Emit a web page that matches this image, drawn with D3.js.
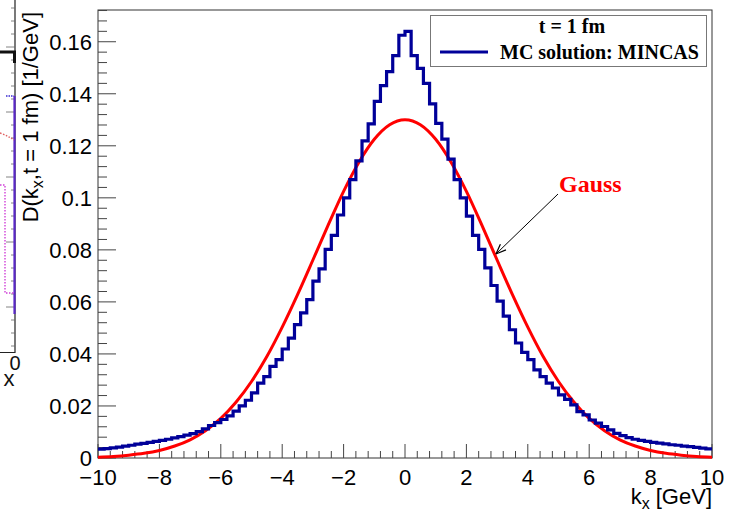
<!DOCTYPE html>
<html>
<head>
<meta charset="utf-8">
<script src="https://cdn.jsdelivr.net/npm/d3@7"></script>
<style>
  html, body { margin: 0; padding: 0; background: #fff; }
  svg { display: block; }
</style>
</head>
<body>
<svg id="chart" width="737" height="512"></svg>
<script>
// Histogram of the MC solution (MINCAS), 100 bins of 0.2 GeV on [-10, 10]
const kRange = [-10, 10];
const mcValues = [
  0.0034, 0.0036, 0.0039, 0.0042, 0.0046, 0.0049, 0.0053, 0.0056, 0.0060, 0.0064,
  0.0068, 0.0072, 0.0077, 0.0082, 0.0088, 0.0094, 0.0101, 0.0112, 0.0125, 0.0136,
  0.0148, 0.0162, 0.0180, 0.0200, 0.0222, 0.0250, 0.0288, 0.0313, 0.0352, 0.0378,
  0.0419, 0.0461, 0.0513, 0.0558, 0.0609, 0.0680, 0.0727, 0.0802, 0.0856, 0.0934,
  0.1000, 0.1070, 0.1142, 0.1219, 0.1284, 0.1371, 0.1431, 0.1485, 0.1547, 0.1625,
  0.1640, 0.1547, 0.1498, 0.1440, 0.1361, 0.1286, 0.1226, 0.1149, 0.1070, 0.1000,
  0.0930, 0.0856, 0.0802, 0.0731, 0.0663, 0.0603, 0.0545, 0.0493, 0.0442, 0.0406,
  0.0378, 0.0339, 0.0313, 0.0288, 0.0269, 0.0243, 0.0225, 0.0204, 0.0178, 0.0166,
  0.0146, 0.0134, 0.0121, 0.0108, 0.0095, 0.0086, 0.0078, 0.0072, 0.0068, 0.0064,
  0.0060, 0.0057, 0.0054, 0.0051, 0.0049, 0.0046, 0.0044, 0.0041, 0.0038, 0.0035
];

// Gaussian curve, sampled every 0.5 GeV
const gaussK = [
  -10, -9.5, -9, -8.5, -8, -7.5, -7, -6.5, -6, -5.5, -5, -4.5, -4, -3.5, -3, -2.5, -2, -1.5, -1, -0.5,
  0, 0.5, 1, 1.5, 2, 2.5, 3, 3.5, 4, 4.5, 5, 5.5, 6, 6.5, 7, 7.5, 8, 8.5, 9, 9.5, 10
];
const gaussD = [
  0.0003, 0.0006, 0.0011, 0.0018, 0.0029, 0.0046, 0.0070, 0.0105, 0.0152, 0.0215,
  0.0294, 0.0390, 0.0503, 0.0628, 0.0761, 0.0896, 0.1025, 0.1137, 0.1225, 0.1281,
  0.1300,
  0.1281, 0.1225, 0.1137, 0.1025, 0.0896, 0.0761, 0.0628, 0.0503, 0.0390, 0.0294,
  0.0215, 0.0152, 0.0105, 0.0070, 0.0046, 0.0029, 0.0018, 0.0011, 0.0006, 0.0003
];

// Axis ticks and labels
const xTicks = [-10, -8, -6, -4, -2, 0, 2, 4, 6, 8, 10];
const xTickLabels = ["\u221210", "\u22128", "\u22126", "\u22124", "\u22122", "0", "2", "4", "6", "8", "10"];
const yTicks = [0, 0.02, 0.04, 0.06, 0.08, 0.1, 0.12, 0.14, 0.16];
const yTickLabels = ["0", "0.02", "0.04", "0.06", "0.08", "0.1", "0.12", "0.14", "0.16"];
const yMax = 0.1722;

const legendTitle = "t = 1 fm";
const legendEntry = "MC solution: MINCAS";
const gaussLabel = "Gauss";

const svg = d3.select("#chart");
const frame = { left: 98, right: 712, top: 10, bottom: 458 };

const x = d3.scaleLinear().domain(kRange).range([frame.left, frame.right]);
const y = d3.scaleLinear().domain([0, yMax]).range([frame.bottom, frame.top]);

const sansFont = "'Liberation Sans', Arial, Helvetica, sans-serif";
const serifFont = "'Liberation Serif', 'Times New Roman', serif";

// ---- Edge of the neighbouring panel on the left ----
const side = svg.append("g").attr("class", "neighbour");
side.append("path")
  .attr("d", "M0,352.5 H15 V0")
  .attr("fill", "none").attr("stroke", "#222").attr("stroke-width", 1.2);
for (let i = 0; i < 27; i++) {
  const ty = 8 + i * 13;
  if (ty > 350) break;
  side.append("line")
    .attr("x1", 15).attr("x2", i % 5 === 3 ? 6 : 11)
    .attr("y1", ty).attr("y2", ty)
    .attr("stroke", "#666").attr("stroke-width", 0.8);
}
side.append("path").attr("d", "M0,52 H14.5 V63")
  .attr("fill", "none").attr("stroke", "#111").attr("stroke-width", 3);
side.append("path").attr("d", "M6,96 H14")
  .attr("fill", "none").attr("stroke", "#3a2bd0").attr("stroke-width", 1.6)
  .attr("stroke-dasharray", "1.5,1");
side.append("path").attr("d", "M14.5,96 V314")
  .attr("fill", "none").attr("stroke", "#5a28c8").attr("stroke-width", 2.2);
side.append("path").attr("d", "M0,133 Q8,136 14,140")
  .attr("fill", "none").attr("stroke", "#e06060").attr("stroke-width", 1.4)
  .attr("stroke-dasharray", "1.5,1.5");
side.append("path").attr("d", "M0,185 H5 V293 H14")
  .attr("fill", "none").attr("stroke", "#d040d8").attr("stroke-width", 1.4)
  .attr("stroke-dasharray", "1.5,1.5");
side.append("text").attr("x", 15).attr("y", 370).attr("text-anchor", "middle")
  .attr("font-family", sansFont).attr("font-size", 20).attr("fill", "#111").text("0");
side.append("text").attr("x", 9).attr("y", 386).attr("text-anchor", "middle")
  .attr("font-family", sansFont).attr("font-size", 22).attr("fill", "#111").text("x");

// ---- Plot frame ----
svg.append("rect")
  .attr("x", frame.left).attr("y", frame.top)
  .attr("width", frame.right - frame.left).attr("height", frame.bottom - frame.top)
  .attr("fill", "none").attr("stroke", "#333").attr("stroke-width", 1);

// ---- Ticks (drawn inward, ROOT style) ----
const yMinor = d3.range(0, yMax + 1e-9, 0.004);
svg.append("g").selectAll("line").data(yMinor).join("line")
  .attr("x1", frame.left)
  .attr("x2", d => frame.left + (Math.abs(d / 0.02 - Math.round(d / 0.02)) < 1e-6 ? 18 : 9))
  .attr("y1", d => y(d)).attr("y2", d => y(d))
  .attr("stroke", "#444").attr("stroke-width", 1);

const xMinor = d3.range(-10, 10 + 1e-9, 0.4);
svg.append("g").selectAll("line").data(xMinor).join("line")
  .attr("y1", frame.bottom)
  .attr("y2", d => frame.bottom - (Math.abs(d / 2 - Math.round(d / 2)) < 1e-6 ? 14 : 7))
  .attr("x1", d => x(d)).attr("x2", d => x(d))
  .attr("stroke", "#444").attr("stroke-width", 1);

// ---- Tick labels ----
svg.append("g").selectAll("text").data(yTicks).join("text")
  .attr("x", frame.left - 6)
  .attr("y", d => y(d))
  .attr("dy", "0.36em")
  .attr("text-anchor", "end")
  .attr("font-family", sansFont).attr("font-size", 22).attr("fill", "#000")
  .text((d, i) => yTickLabels[i]);

svg.append("g").selectAll("text").data(xTicks).join("text")
  .attr("x", d => x(d))
  .attr("y", frame.bottom + 27)
  .attr("text-anchor", "middle")
  .attr("font-family", sansFont).attr("font-size", 22).attr("fill", "#000")
  .text((d, i) => xTickLabels[i]);

// ---- Axis titles ----
const yTitle = svg.append("text")
  .attr("transform", "translate(38,12) rotate(-90)")
  .attr("text-anchor", "end")
  .attr("font-family", sansFont).attr("font-size", 22).attr("fill", "#000");
yTitle.append("tspan").text("D(k");
yTitle.append("tspan").attr("font-size", 16).attr("dy", 5).text("x");
yTitle.append("tspan").attr("dy", -5).text(",t = 1 fm) [1/GeV]");

const xTitle = svg.append("text")
  .attr("x", frame.right).attr("y", 504)
  .attr("text-anchor", "end")
  .attr("font-family", sansFont).attr("font-size", 22).attr("fill", "#000");
xTitle.append("tspan").text("k");
xTitle.append("tspan").attr("font-size", 16).attr("dy", 5).text("x");
xTitle.append("tspan").attr("dy", -5).text(" [GeV]");

// ---- Gaussian curve ----
const gaussPts = gaussK.map((k, i) => [k, gaussD[i]]);
svg.append("path")
  .datum(gaussPts)
  .attr("fill", "none")
  .attr("stroke", "#ff0000")
  .attr("stroke-width", 3)
  .attr("d", d3.line().x(d => x(d[0])).y(d => y(d[1])).curve(d3.curveMonotoneX));

// ---- MC histogram outline ----
const binW = (kRange[1] - kRange[0]) / mcValues.length;
const histPts = mcValues.map((v, i) => [kRange[0] + i * binW, v]);
histPts.push([kRange[1], mcValues[mcValues.length - 1]]);
svg.append("path")
  .datum(histPts)
  .attr("fill", "none")
  .attr("stroke", "#000099")
  .attr("stroke-width", 3.2)
  .attr("d", d3.line().x(d => x(d[0])).y(d => y(d[1])).curve(d3.curveStepAfter));

// ---- Legend ----
const leg = svg.append("g");
leg.append("rect")
  .attr("x", 430.5).attr("y", 15.5).attr("width", 276).attr("height", 51)
  .attr("fill", "#fff").attr("stroke", "#777").attr("stroke-width", 1);
leg.append("text")
  .attr("x", 572).attr("y", 33)
  .attr("text-anchor", "middle")
  .attr("font-family", serifFont).attr("font-weight", "bold").attr("font-size", 20)
  .text(legendTitle);
leg.append("line")
  .attr("x1", 440).attr("x2", 488).attr("y1", 52).attr("y2", 52)
  .attr("stroke", "#000099").attr("stroke-width", 3.2);
leg.append("text")
  .attr("x", 500).attr("y", 59)
  .attr("font-family", serifFont).attr("font-weight", "bold").attr("font-size", 20)
  .text(legendEntry);

// ---- Gauss annotation with arrow ----
const defs = svg.append("defs");
defs.append("marker")
  .attr("id", "arrowhead")
  .attr("viewBox", "0 0 10 10")
  .attr("refX", 10).attr("refY", 5)
  .attr("markerWidth", 10).attr("markerHeight", 10)
  .attr("markerUnits", "userSpaceOnUse")
  .attr("orient", "auto")
  .append("path")
  .attr("d", "M0,1 L10,5 L0,9")
  .attr("fill", "none").attr("stroke", "#000").attr("stroke-width", 1.2);

svg.append("line")
  .attr("x1", 558).attr("y1", 194)
  .attr("x2", 496).attr("y2", 254)
  .attr("stroke", "#000").attr("stroke-width", 1)
  .attr("marker-end", "url(#arrowhead)");

svg.append("text")
  .attr("x", 559).attr("y", 192)
  .attr("font-family", serifFont).attr("font-weight", "bold").attr("font-size", 24)
  .attr("fill", "#ff0000")
  .text(gaussLabel);
</script>
</body>
</html>
